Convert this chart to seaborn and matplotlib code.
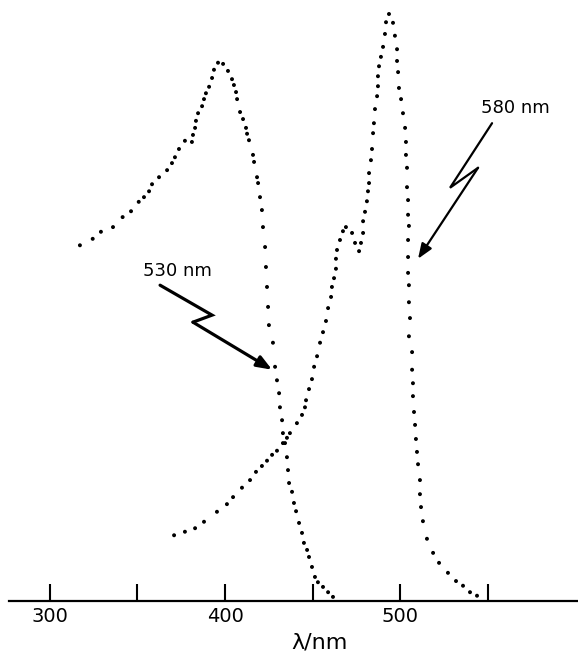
"""Absorption spectra of two dyes with excitation wavelength markers (dotted trace style)."""

import matplotlib

matplotlib.use("Agg")
import matplotlib.pyplot as plt
import numpy as np
import pandas as pd
import seaborn as sns

# curve A: band peaking near 397 nm (wavelength in nm, relative absorbance)
wl_a = [317.1, 324.4, 329.1, 336.0, 341.5, 346.3, 350.7, 353.7, 356.6, 358.3, 362.3, 366.9,
        369.7, 371.4, 373.7, 377.1, 381.1, 381.7, 382.9, 383.4, 384.6, 386.9, 388.0, 389.1,
        390.9, 392.6, 393.7, 396.0, 398.9, 401.7, 404.0, 405.1, 406.3, 406.9, 408.6, 410.3,
        412.0, 412.6, 413.7, 416.0, 416.6, 418.3, 418.9, 420.0, 421.1, 421.7, 422.9, 423.4,
        424.0, 424.6, 425.1, 427.4, 428.6, 429.7, 430.9, 431.4, 432.6, 433.1, 434.3, 435.4,
        436.0, 436.6, 438.3, 439.4, 440.6, 442.3, 444.0, 445.1, 446.9, 448.0, 449.7, 451.4,
        453.1, 456.0, 458.9, 461.7]
abs_a = [0.606, 0.617, 0.629, 0.637, 0.654, 0.664, 0.680, 0.688, 0.698, 0.710, 0.722, 0.734,
         0.746, 0.756, 0.770, 0.784, 0.782, 0.794, 0.806, 0.818, 0.831, 0.843, 0.855, 0.865,
         0.876, 0.891, 0.905, 0.917, 0.915, 0.903, 0.889, 0.879, 0.867, 0.855, 0.833, 0.821,
         0.806, 0.796, 0.785, 0.760, 0.748, 0.722, 0.712, 0.688, 0.666, 0.637, 0.603, 0.569,
         0.535, 0.501, 0.470, 0.440, 0.399, 0.376, 0.354, 0.330, 0.308, 0.286, 0.269, 0.245,
         0.223, 0.201, 0.186, 0.167, 0.153, 0.133, 0.116, 0.099, 0.087, 0.075, 0.058, 0.041,
         0.032, 0.024, 0.015, 0.007]

# curve B: band peaking near 494 nm with a shoulder near 469 nm
wl_b = [370.9, 377.1, 382.9, 388.0, 395.4, 401.1, 404.6, 409.7, 414.3, 417.7, 421.1, 424.0,
        426.9, 429.7, 433.1, 435.4, 437.1, 441.1, 444.0, 445.7, 446.3, 448.0, 449.7, 450.9,
        452.6, 454.3, 456.0, 457.7, 458.9, 460.6, 461.1, 462.3, 463.4, 463.4, 464.0, 465.7,
        467.4, 469.1, 472.6, 474.3, 476.6, 477.7, 478.9, 478.9, 480.0, 481.1, 481.7, 482.3,
        482.3, 483.4, 484.0, 484.6, 485.1, 485.7, 486.9, 487.4, 487.4, 488.0, 489.1, 490.3,
        491.4, 492.0, 493.7, 496.0, 497.1, 498.3, 498.3, 498.9, 499.4, 500.6, 501.7, 502.9,
        503.4, 503.4, 504.0, 504.0, 504.6, 504.6, 505.1, 504.6, 504.6, 504.6, 505.1, 505.1,
        505.7, 505.1, 506.9, 506.9, 507.4, 507.4, 508.0, 508.6, 509.1, 509.7, 510.3, 511.4,
        511.4, 512.0, 513.1, 515.4, 518.9, 522.3, 527.4, 532.0, 536.0, 540.0, 544.0]
abs_b = [0.112, 0.118, 0.124, 0.135, 0.152, 0.165, 0.177, 0.193, 0.206, 0.220, 0.230, 0.239,
         0.249, 0.256, 0.269, 0.278, 0.286, 0.303, 0.317, 0.330, 0.342, 0.361, 0.378, 0.399,
         0.417, 0.440, 0.458, 0.477, 0.499, 0.518, 0.535, 0.550, 0.566, 0.583, 0.598, 0.615,
         0.630, 0.637, 0.627, 0.610, 0.596, 0.610, 0.627, 0.647, 0.663, 0.681, 0.698, 0.712,
         0.729, 0.751, 0.770, 0.797, 0.814, 0.838, 0.860, 0.877, 0.894, 0.911, 0.927, 0.944,
         0.966, 0.986, 1.000, 0.985, 0.963, 0.940, 0.920, 0.901, 0.874, 0.855, 0.831, 0.806,
         0.782, 0.760, 0.738, 0.705, 0.683, 0.658, 0.639, 0.615, 0.586, 0.559, 0.538, 0.509,
         0.482, 0.451, 0.424, 0.394, 0.371, 0.349, 0.322, 0.300, 0.276, 0.254, 0.233, 0.206,
         0.182, 0.160, 0.136, 0.106, 0.082, 0.065, 0.048, 0.034, 0.026, 0.015, 0.009]

tick_nm = [300, 350, 400, 450, 500, 550]
tick_labels = ["300", "", "400", "", "500", ""]

# zig-zag arrows (wavelength, absorbance) and their labels
arrow_530 = [(362.9, 0.538), (392.6, 0.487), (381.7, 0.475), (426.9, 0.394)]
arrow_580 = [(552.6, 0.814), (528.6, 0.704), (544.6, 0.738), (510.3, 0.583)]
label_530 = ("530 nm", 372.6, 0.562)
label_580 = ("580 nm", 565.7, 0.840)

sns.set_style("white")
plt.rcParams["font.family"] = ["DejaVu Sans"]
plt.rcParams["text.color"] = "black"

df = pd.concat([
    pd.DataFrame({"nm": wl_a, "A": abs_a, "dye": "a"}),
    pd.DataFrame({"nm": wl_b, "A": abs_b, "dye": "b"}),
])

fig = plt.figure(figsize=(5.78, 6.58), dpi=100)
ax = fig.add_axes([0.0, 57 / 658, 1.0, 601 / 658])

sns.scatterplot(data=df, x="nm", y="A", hue="dye", palette=["black", "black"],
                s=8, linewidth=0, legend=False, ax=ax)

ax.set_xlim(271.43, 601.71)
ax.set_ylim(0, 601 / 587)

for path, lw in ((arrow_530, 2.3), (arrow_580, 1.6)):
    xs, ys = zip(*path)
    ax.plot(xs[:-1], ys[:-1], color="black", lw=lw, solid_joinstyle="miter")
    ax.annotate("", xy=path[-1], xytext=path[-2],
                arrowprops=dict(arrowstyle="-|>,head_length=0.9,head_width=0.35",
                                color="black", lw=lw, shrinkA=0, shrinkB=0))

for text, x, y in (label_530, label_580):
    ax.text(x, y, text, ha="center", va="center", fontsize=13, color="black")

for side in ("left", "right", "top"):
    ax.spines[side].set_visible(False)
ax.spines["bottom"].set_color("black")
ax.spines["bottom"].set_linewidth(1.6)
ax.spines["bottom"].set_bounds(276.6, 601.71)

ax.set_yticks([])
ax.set_xticks(tick_nm)
ax.set_xticklabels(tick_labels, fontsize=14)
ax.tick_params(axis="x", bottom=True, direction="in", length=12, width=1.5, pad=4,
               colors="black")
ax.set_ylabel("")
ax.set_xlabel("λ/nm", fontsize=16, color="black")
ax.xaxis.set_label_coords(320 / 578, -0.052)

fig.savefig("out.png", dpi=100)
